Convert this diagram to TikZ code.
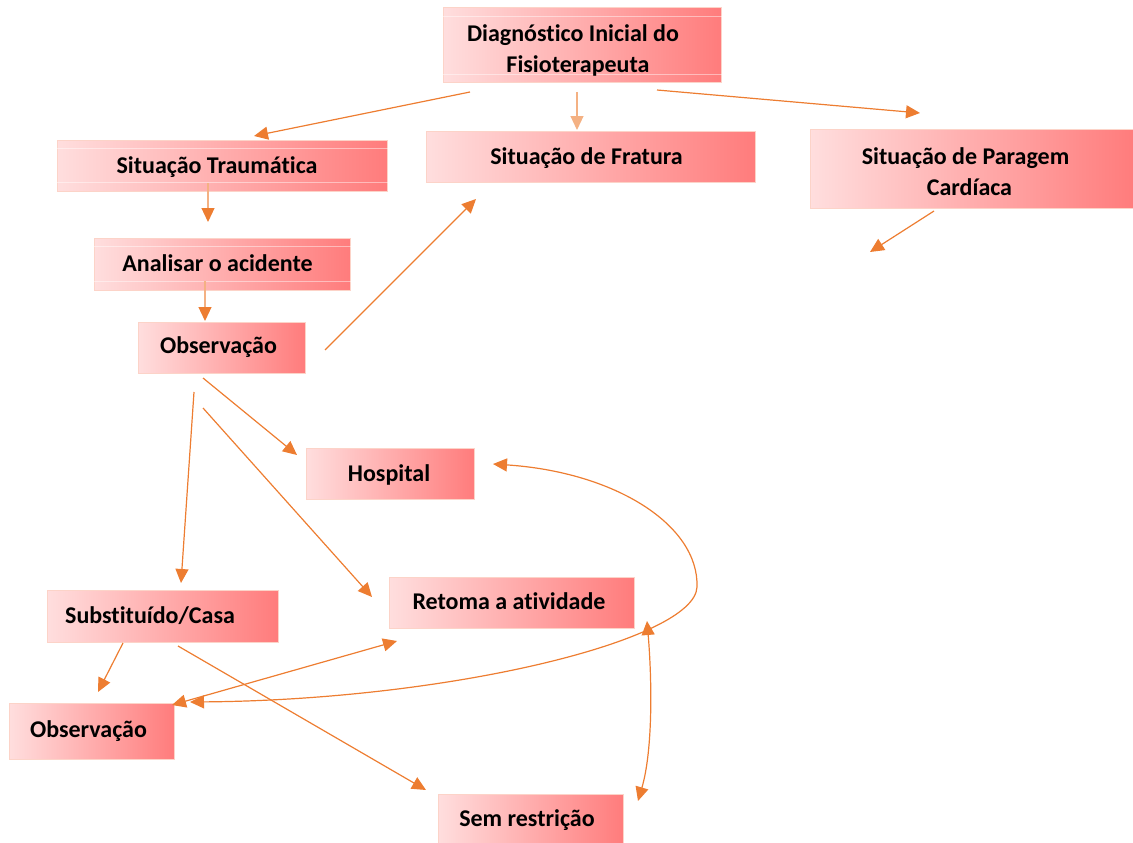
\documentclass[tikz,border=0pt]{standalone}
\usepackage{fontspec}
\setmainfont[Ligatures={NoCommon}]{Carlito}
\usetikzlibrary{arrows.meta}
\definecolor{arr}{HTML}{ED7D31}
\definecolor{arrl}{HTML}{F4B183}
\definecolor{bx}{HTML}{FCD3C8}
\definecolor{boxl}{HTML}{FFDEDE}
\definecolor{boxr}{HTML}{FF7C7C}
\begin{document}
\begin{tikzpicture}[x=1pt,y=-1pt,
  box/.style={draw=bx, line width=1pt, left color=boxl, right color=boxr, inner sep=0pt},
  txt/.style={inner sep=0pt, font=\fontsize{24}{31}\selectfont\bfseries, align=center},
  faint/.style={draw=white, opacity=0.45, line width=0.9pt},
  con/.style={draw=arr, line width=1.2pt, -{Triangle[length=14pt,width=13pt]}},
  conl/.style={draw=arrl, line width=1.2pt, -{Triangle[length=14pt,width=13pt,color=arr]}},
  conll/.style={draw=arrl, line width=1.2pt, -{Triangle[length=14pt,width=13pt]}},
  dcon/.style={draw=arr, line width=1.2pt, {Triangle[length=14pt,width=13pt]}-{Triangle[length=14pt,width=13pt]}}]
\useasboundingbox (0,0) rectangle (1133,843);

% boxes
\node[box, minimum width=278pt, minimum height=75pt] (diag) at (582,45.5) {};
\node[box, minimum width=330pt, minimum height=51pt] (trau) at (222,165.5) {};
\node[box, minimum width=329pt, minimum height=51pt] (frat) at (590.5,156.5) {};
\node[box, minimum width=323pt, minimum height=79pt] (para) at (971.5,168.5) {};
\node[box, minimum width=256pt, minimum height=52pt] (anal) at (222,264) {};
\node[box, minimum width=167pt, minimum height=51pt] (obsa) at (221.5,347.5) {};
\node[box, minimum width=168pt, minimum height=51pt] (hosp) at (390,473.5) {};
\node[box, minimum width=245pt, minimum height=51pt] (reto) at (511.5,602.5) {};
\node[box, minimum width=231pt, minimum height=52pt] (subs) at (162.5,616) {};
\node[box, minimum width=165pt, minimum height=56pt] (obsb) at (91.5,731) {};
\node[box, minimum width=185pt, minimum height=50pt] (sem) at (530.5,819) {};

% faint inner lines
\draw[faint] ([yshift=-9pt]diag.north west) -- ([yshift=-9pt]diag.north east);
\draw[faint] ([yshift=9pt]diag.south west) -- ([yshift=9pt]diag.south east);
\draw[faint] ([yshift=-9pt]trau.north west) -- ([yshift=-9pt]trau.north east);
\draw[faint] ([yshift=9pt]trau.south west) -- ([yshift=9pt]trau.south east);
\draw[faint] ([yshift=-9pt]anal.north west) -- ([yshift=-9pt]anal.north east);
\draw[faint] ([yshift=9pt]anal.south west) -- ([yshift=9pt]anal.south east);

% texts
\node[txt] (diagt) at ([xshift=-4pt,yshift=-5pt]diag.center) {Diagnóstico Inicial do\hspace*{10pt}\\Fisioterapeuta};
\node[txt] (raut) at ([xshift=-5pt,yshift=-2pt]trau.center) {Situação Traumática};
\node[txt] (fratt) at ([xshift=-4pt,yshift=-2pt]frat.center) {Situação de Fratura};
\node[txt] (parat) at ([xshift=-2pt,yshift=-3pt]para.center) {Situação de Paragem\hspace*{8pt}\\Cardíaca};
\node[txt] (analt) at ([xshift=-4.5pt,yshift=1pt]anal.center) {Analisar o acidente};
\node[txt] (obsat) at ([xshift=-3pt]obsa.center) {Observação};
\node[txt] (hospt) at ([xshift=-1pt,yshift=-1.5pt]hosp.center) {Hospital};
\node[txt] (retot) at ([xshift=-2.5pt,yshift=1pt]reto.center) {Retoma a atividade};
\node[txt] (subst) at ([xshift=-12.5pt]subs.center) {Substituído/Casa};
\node[txt] (obsbt) at ([xshift=-3pt]obsb.center) {Observação};
\node[txt] (semt) at ([xshift=-3.5pt,yshift=-1.5pt]sem.center) {Sem restrição};

% connector end points
\coordinate (a1) at (470,92);  \coordinate (a2) at (254,136);
\coordinate (b1) at (577,92);  \coordinate (b2) at (577,130);
\coordinate (c1) at (657,90);  \coordinate (c2) at (920,113);
\coordinate (d1) at (208,183); \coordinate (d2) at (208,222);
\coordinate (e1) at (205,281); \coordinate (e2) at (205,321);
\coordinate (f1) at (325,350); \coordinate (f2) at (476,199);
\coordinate (g1) at (934,211); \coordinate (g2) at (870,252);
\coordinate (h1) at (203,378); \coordinate (h2) at (297,455);
\coordinate (i1) at (194,392); \coordinate (i2) at (181,583);
\coordinate (j1) at (203,408); \coordinate (j2) at (372,597);
\coordinate (k1) at (123,643); \coordinate (k2) at (98,692);
\coordinate (l1) at (178,646); \coordinate (l2) at (426,790);
\coordinate (m1) at (172,705); \coordinate (m2) at (397,641);
\coordinate (n1) at (493,464); \coordinate (n2) at (697,587); \coordinate (n3) at (190,702);
\coordinate (o1) at (647,621); \coordinate (o2) at (638,801);

% connectors
\draw[con] (a1) -- (a2);
\draw[conll] (b1) -- (b2);
\draw[con] (c1) -- (c2);
\draw[conl] (d1) -- (d2);
\draw[conl] (e1) -- (e2);
\draw[con] (f1) -- (f2);
\draw[con] (g1) -- (g2);
\draw[con] (h1) -- (h2);
\draw[con] (i1) -- (i2);
\draw[con] (j1) -- (j2);
\draw[con] (k1) -- (k2);
\draw[con] (l1) -- (l2);
\draw[dcon] (m1) -- (m2);
\draw[dcon] (n1) .. controls (615,472) and (699,525) .. (n2) .. controls (695,640) and (450,700) .. (n3);
\draw[dcon] (o1) .. controls (652,680) and (653,750) .. (o2);
\end{tikzpicture}
\end{document}
